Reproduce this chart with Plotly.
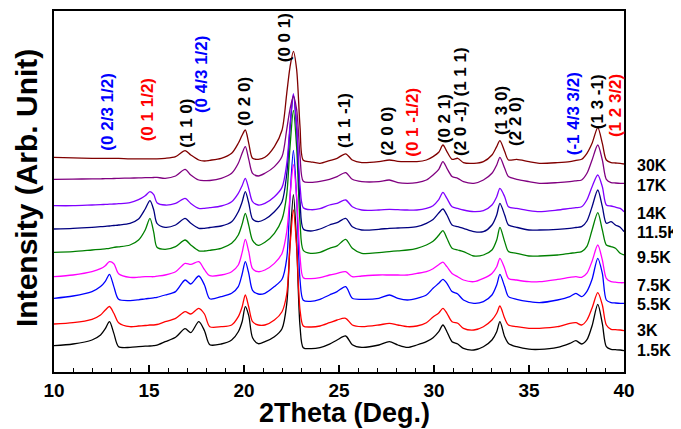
import plotly.graph_objects as go

# shared 2theta grid (degrees)
two_theta = [10.0, 11.0, 12.0, 12.45, 12.7, 12.92, 13.15, 13.4, 14.0, 14.45,
             14.8, 15.05, 15.25, 15.42, 15.85, 16.4, 16.9, 17.2, 17.62, 17.92,
             18.2, 18.8, 19.35, 19.7, 19.9, 20.07, 20.25, 20.45, 20.75, 21.1,
             21.6, 22.0, 22.25, 22.42, 22.6, 22.77, 22.95, 23.12, 23.5, 24.0,
             24.5, 24.9, 25.35, 25.7, 26.2, 27.1, 27.65, 28.1, 28.6, 29.1,
             29.6, 29.95, 30.25, 30.47, 30.68, 30.95, 31.25, 31.55, 32.1, 32.6,
             33.05, 33.3, 33.47, 33.72, 33.92, 34.35, 35.0, 35.55, 36.5, 37.15,
             37.47, 37.77, 38.05, 38.32, 38.62, 38.86, 39.07, 39.32, 39.55, 39.8, 40.0]

temps = ["1.5K", "3K", "5.5K", "7.5K", "9.5K", "11.5K", "14K", "17K", "30K"]
offsets = [26.3, 48, 73.7, 95.3, 119.7, 143, 166.3, 192.7, 214.7]
label_y = [22, 41.3, 67.7, 87, 114.7, 139.3, 159, 187, 207]
colors = ["#000000", "#FF0000", "#0000FF", "#FF00FF", "#008000",
          "#000080", "#8000FF", "#800080", "#800000"]

i_1p5K = [0, 1.7, 5.7, 10.7, 17, 24, 12.3, -1, -1.7, -1,
          -0.5, -0.3, 0, 0.5, 4, 8.4, 17, 13, 24, 15,
          1, 1.7, 5.7, 14, 24, 39, 30, 8, 2, 4,
          9, 17, 42, 102, 151, 102, 19, -2, -3, -2,
          1.5, 5.7, 9.7, 1, -1.7, 0.7, 4, 0.7, -1.7, 0.7,
          4, 8, 14, 20.7, 14, 4, 1.7, -2.7, -4.3, -1,
          5.7, 14, 24, 9, 2.3, -1, -3.5, -3.7, -1.7, 2.3,
          5, 1.7, 6, 20, 41.3, 22, -1, -3.7, -4, -4.3, -5]
i_3K = [0, 1.3, 4.7, 9, 14, 17.5, 10.7, 1.3, -2.7, -2,
        -1.5, -1, -1, -0.5, 2.3, 5.7, 12.3, 10, 15.7, 10,
        -2.7, -2.7, -1, 7.3, 17, 29, 17, 2.3, -1, -1,
        4, 12.3, 30, 77, 114, 77, 14, -2, -3, -2,
        1.3, 4, 5.7, -1, -2.7, -1, 0.7, -1, -2.7, -2,
        1.3, 7, 11, 15.7, 10.7, 2.3, 0.7, -4.3, -6, -2.7,
        4, 10.7, 18, 5.7, -1, -2.7, -4.3, -4.3, -2.7, 0.7,
        1.3, -1, 4, 16, 31.3, 19, -1, -5.3, -5.7, -6, -6.7]
i_5p5K = [0, 2.3, 6.7, 11.7, 17, 24, 11.7, -1, -2.3, -1.5,
          -0.5, 0, 0.5, 1, 3.3, 6.7, 18.3, 14.3, 22.3, 13.3,
          -0.5, 1.7, 5, 11.7, 24, 36.7, 25, 8, 4.3, 5,
          11.7, 19, 40, 100, 148, 100, 18, -2, -3, -1,
          3.3, 6.7, 11.7, 0, -1, 0, 3.3, 0, -1.7, 0,
          3.3, 10, 15, 19, 15, 6.7, 4.3, -1.7, -5, -3.3,
          3.3, 13.3, 24, 11.7, 1.7, -1, -3.3, -4.3, -1.7, 1.7,
          5, 1.7, 7, 19, 40, 25, -1.7, -4.3, -4.7, -5, -5]
i_7p5K = [0, 1.7, 5, 8, 11, 15, 13, 3, -0.7, -0.5,
          0, 0, 0, 0.5, 1.7, 5, 13.3, 12.3, 15, 7,
          1, 1.7, 5, 11.7, 24, 37.3, 25, 8, 5, 6.7,
          13.3, 23.3, 45, 80, 112, 80, 20, -1, -2, -1,
          1.7, 3.3, 5, 0, 0.7, 1.7, 1.7, 1.7, 1.7, 3.3,
          5, 8, 12, 14.5, 10, 3.3, 0, -3.3, -5, -1.7,
          3.3, 10, 18.3, 8.3, -1.7, -3.3, -5, -5, -2.7, -0.7,
          0, -0.7, 3.5, 15.5, 31.7, 16.7, -1.7, -5, -5.5, -6, -6]
i_9p5K = [0, 0.7, 2.3, 3, 3.5, 4, 5, 5.5, 7.3, 12.3,
          22.3, 34, 20, 5, 3, 5.7, 12.3, 7.3, 1.5, 1.3,
          2, 4, 9, 17.3, 28, 39, 27, 12, 7, 10,
          19, 33, 58, 105, 142, 105, 30, 2, -1, 0,
          4, 6.5, 13, 4, -1, -0.3, 0.7, 1.5, 2.3, 4,
          7.3, 11, 17, 21.7, 14, 4, 2.3, 0.7, -3.7, -2.7,
          2.3, 12.3, 25, 10.7, 0.7, -1, -3.7, -3.7, -2.7, -1,
          -0.3, 0.7, 6, 22.3, 39.7, 22.3, 7.3, 5.7, 4, -1, -2.7]
i_11p5K = [0, 0.7, 1.7, 2.3, 2.7, 3, 3.5, 4, 5.7, 10,
           20, 28.3, 19, 5.7, 1.7, 4, 10.7, 5.7, 0.7, 0.7,
           1.5, 3, 7.3, 17.3, 27, 37.3, 26, 10, 7.3, 9.7,
           17.3, 27.3, 55, 100, 134, 100, 27, 0, -2, 0,
           4, 6.3, 10.7, 2.3, -1, -0.3, 0.7, 1, 1.3, 2.3,
           5.7, 9.5, 16, 20, 14, 4, 2.3, 0.7, -2.7, -2.7,
           4, 14, 25.7, 14, 4, 1.7, -1, -1, -0.3, 0.7,
           1.5, 2.3, 8, 22.3, 39, 22.3, 5.7, 7.3, 4, 1.7, -2.7]
i_14K = [0, 0, 0.7, 1, 1.3, 1.5, 1.7, 2, 3, 6,
         10, 14, 11, 3, 0.7, 2.3, 7.3, 2.3, -2.7, -2.7,
         -2, -0.3, 4, 12.3, 20, 27.3, 17, 4, 0.7, 2.3,
         9, 18.3, 42, 80, 112, 80, 20, -2, -4, -3,
         0.7, 2.3, 5.7, -1, -4.3, -4.3, -3.7, -4, -4.3, -4.3,
         -2.7, 0, 6, 13.3, 7.3, -1, -2.7, -4.3, -6, -5,
         0.7, 9, 17.3, 9, -1, -2.7, -5, -6, -4.3, -2.7,
         -2, -1, 6, 19, 30.7, 19, 0.7, -0.3, -1.5, -2.7, -6]
i_17K = [0, 0.2, 0.4, 0.5, 0.6, 0.7, 0.8, 1, 1.2, 1.4,
         1.6, 1.7, 1.8, 1.9, 1, 3.3, 10, 4.3, -0.7, -1.3,
         -1.2, 1, 6, 16, 26, 32.7, 20, 6, 3.3, 6,
         12.7, 22.7, 50, 70, 83, 70, 23, -2, -3, -2,
         0, 2.7, 6.7, 0, -2.3, -2.3, -0.7, -3.3, -4, -3.3,
         -0.7, 4.3, 10, 17.7, 11, 2.7, 1, -2.3, -4, -0.7,
         6, 14.3, 22, 11, 2.7, 0, -2.3, -4, -3.3, -2.3,
         -1.5, -0.7, 6, 19.3, 34.3, 19.3, 0, -3.3, -3.7, -4, -4]
i_30K = [0, -0.5, -1, -1, -1, -1, -1, -1, -1.5, -1.5,
         -1.5, -1.5, -1.5, -1.5, -1, 0.7, 6.7, 2.3, -2.7, -3.7,
         -3, -1, 4, 14, 22, 27.3, 14, -1, -2, 0,
         10.7, 27, 64, 90, 106, 88, 30, -3, -4.5, -6,
         -3.3, -1, 3.5, -2.7, -5.3, -4.3, -2.7, -4, -4.3, -4.3,
         -2.7, 0.7, 5, 12.3, 5.7, -2, -1, -5.3, -6, -4.3,
         2.3, 10.7, 16.7, 5.7, -2.7, -2, -4.3, -6, -5.3, -4.3,
         -3, -2, 4, 14, 29.7, 14, -2.7, -5.3, -5.7, -6, -6.7]
profiles = [i_1p5K, i_3K, i_5p5K, i_7p5K, i_9p5K, i_11p5K, i_14K, i_17K, i_30K]

# peak index labels
peak_text = ["(0 2/3 1/2)", "(0 1 1/2)", "(1 1 0)", "(0 4/3 1/2)", "(0 2 0)", "(0 0 1)",
             "(1 1 -1)", "(2 0 0)", "(0 1 -1/2)", "(0 2 1)", "(2 0 -1) (1 1 1)", "(1 3 0)",
             "(2 2 0)", "(-1 4/3 3/2)", "(1 3 -1)", "(1 2 3/2)"]
peak_x = [12.77, 14.91, 16.93, 17.74, 20.0, 22.12, 25.26, 27.51, 28.83, 30.54, 31.37,
          33.53, 34.26, 37.33, 38.59, 39.53]
peak_y = [260, 262, 249, 298, 270, 334, 252, 241, 250, 253, 270, 261, 251, 258, 270, 266]
peak_color = ["#0000FF", "#FF0000", "#000000", "#0000FF", "#000000", "#000000",
              "#000000", "#000000", "#FF0000", "#000000", "#000000", "#000000",
              "#000000", "#0000FF", "#000000", "#FF0000"]

FONT = "Liberation Sans, Arial, sans-serif"

fig = go.Figure()
for name, off, prof, col in zip(temps, offsets, profiles, colors):
    fig.add_trace(go.Scatter(
        x=two_theta, y=[off + v for v in prof], mode="lines", name=name,
        line=dict(color=col, width=1.3, shape="spline", smoothing=0.8),
        showlegend=False))

annotations = []
for name, ly in zip(temps, label_y):
    annotations.append(dict(
        x=1.019, xref="paper", y=ly, yref="y", text=name, showarrow=False,
        xanchor="left", yanchor="middle",
        font=dict(family=FONT, size=16, color="#000000", weight="bold")))
for t, px, py, pc in zip(peak_text, peak_x, peak_y, peak_color):
    annotations.append(dict(
        x=px, y=py, xref="x", yref="y", text=t, showarrow=False, textangle=-90,
        xanchor="center", yanchor="middle",
        font=dict(family=FONT, size=17, color=pc, weight="bold")))
# axis titles
annotations.append(dict(
    x=(344 - 54) / 570, y=(372 - 413) / 361, xref="paper", yref="paper",
    text="2Theta (Deg.)", showarrow=False, xanchor="center", yanchor="middle",
    font=dict(family=FONT, size=27, color="#000000", weight="bold")))
annotations.append(dict(
    x=(26 - 54) / 570, y=(372 - 188) / 361, xref="paper", yref="paper",
    text="Intensity (Arb. Unit)", showarrow=False, textangle=-90,
    xanchor="center", yanchor="middle",
    font=dict(family=FONT, size=30, color="#000000", weight="bold")))

# the page body adds an 8 px margin, so the figure is drawn 8 px smaller
fig.update_layout(
    width=673, height=421,
    margin=dict(l=46, r=57, t=3, b=57, autoexpand=False),
    paper_bgcolor="white", plot_bgcolor="white",
    annotations=annotations,
    xaxis=dict(
        range=[10, 40], dtick=5, tick0=10, ticks="inside", ticklen=7, tickwidth=1.5,
        tickcolor="#000000", automargin=False,
        minor=dict(dtick=1, ticks="inside", ticklen=4, tickwidth=1, tickcolor="#000000"),
        showline=True, linecolor="#000000", linewidth=1.5, mirror=True,
        showgrid=False, zeroline=False,
        tickfont=dict(family=FONT, size=19, color="#000000", weight="bold")),
    yaxis=dict(
        range=[0, 361], showticklabels=False, ticks="", automargin=False,
        showline=True, linecolor="#000000", linewidth=1.5, mirror=True,
        showgrid=False, zeroline=False),
)

fig.write_html("out.html")
